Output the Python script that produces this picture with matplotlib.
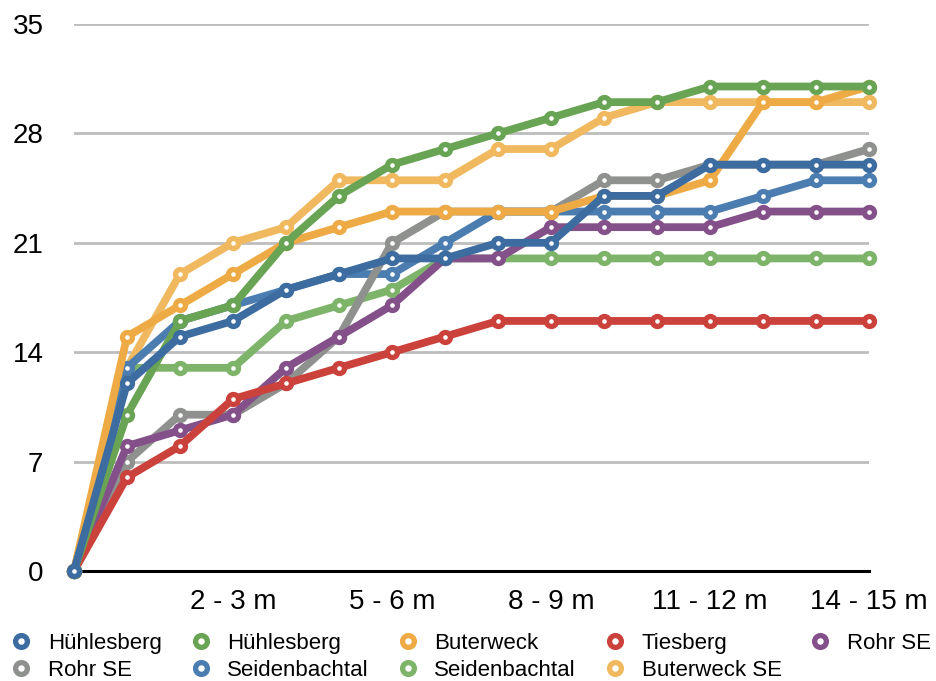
import matplotlib
matplotlib.use("Agg")
import matplotlib.pyplot as plt
from matplotlib.lines import Line2D

plt.rcParams['font.family'] = ['Liberation Sans', 'DejaVu Sans']

categories = ["0"] + [f"{k-1} - {k} m" for k in range(1, 16)]
tick_idx = [3, 6, 9, 12, 15]
y_ticks = [0, 7, 14, 21, 28, 35]

series_names = ["Hühlesberg", "Hühlesberg", "Buterweck", "Tiesberg", "Rohr SE",
                "Rohr SE", "Seidenbachtal", "Seidenbachtal", "Buterweck SE"]
hb_blue      = [0, 12, 15, 16, 18, 19, 20, 20, 21, 21, 24, 24, 26, 26, 26, 26]
hb_green     = [0, 10, 16, 17, 21, 24, 26, 27, 28, 29, 30, 30, 31, 31, 31, 31]
buterweck    = [0, 15, 17, 19, 21, 22, 23, 23, 23, 23, 24, 24, 25, 30, 30, 31]
tiesberg     = [0, 6, 8, 11, 12, 13, 14, 15, 16, 16, 16, 16, 16, 16, 16, 16]
rohr_purple  = [0, 8, 9, 10, 13, 15, 17, 20, 20, 22, 22, 22, 22, 23, 23, 23]
rohr_gray    = [0, 7, 10, 10, 12, 15, 21, 23, 23, 23, 25, 25, 26, 26, 26, 27]
seid_blue    = [0, 13, 16, 17, 18, 19, 19, 21, 23, 23, 23, 23, 23, 24, 25, 25]
seid_green   = [0, 13, 13, 13, 16, 17, 18, 20, 20, 20, 20, 20, 20, 20, 20, 20]
buterweck_se = [0, 13, 19, 21, 22, 25, 25, 25, 27, 27, 29, 30, 30, 30, 30, 30]

all_series = [hb_blue, hb_green, buterweck, tiesberg, rohr_purple,
              rohr_gray, seid_blue, seid_green, buterweck_se]
colors = ["#3c6ca0", "#68a453", "#eeab45", "#cb413c", "#845089",
          "#8f918f", "#4b7db0", "#7db46a", "#f0b95f"]

fig = plt.figure(figsize=(9.37, 6.81), dpi=100)
ax = fig.add_axes([74/937, 1-571/681, (869-74)/937, (571-24)/681])

x = list(range(len(categories)))
n = len(all_series)
for i, (vals, c) in enumerate(zip(all_series, colors)):
    ax.plot(x, vals, color=c, lw=5.6, solid_joinstyle='round',
            solid_capstyle='round',
            marker='o', markersize=7.2, markerfacecolor='white',
            markeredgecolor=c, markeredgewidth=3.8, zorder=10 + (n - i),
            clip_on=False)

ax.set_xlim(0, 15)
ax.set_ylim(0, 35)
ax.set_yticks(y_ticks)
ax.set_yticklabels([str(v) for v in y_ticks])
ax.set_xticks(tick_idx)
ax.set_xticklabels([categories[i] for i in tick_idx])
ax.tick_params(axis='both', length=0, labelsize=20, colors='black')
ax.tick_params(axis='y', pad=22)
ax.tick_params(axis='x', pad=13)
for s in ['top', 'right', 'left']:
    ax.spines[s].set_visible(False)
ax.spines['bottom'].set_color('black')
ax.spines['bottom'].set_linewidth(2.2)
ax.spines['bottom'].set_zorder(5)
ax.yaxis.grid(True, color='#bdbdbd', lw=2.0)
ax.set_axisbelow(True)

handles = [Line2D([], [], ls='none', marker='o', markersize=8.5,
                  markerfacecolor='white', markeredgecolor=c, markeredgewidth=3.8)
           for c in colors]
order = [0, 5, 1, 6, 2, 7, 3, 8, 4]
fig.legend([handles[i] for i in order], [series_names[i] for i in order],
           ncol=5, loc='upper left', bbox_to_anchor=(10/937, 1-633/681),
           frameon=False, borderaxespad=0, borderpad=0, fontsize=16,
           handlelength=1.0, handletextpad=0.7, columnspacing=1.25,
           labelspacing=0.25)

fig.savefig("out.png", dpi=100)
